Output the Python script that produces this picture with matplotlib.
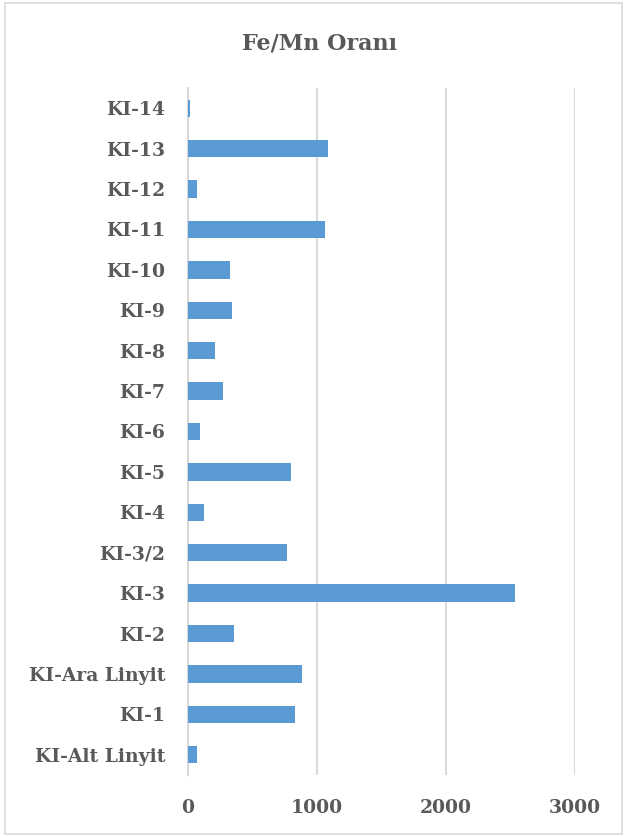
"""Fe/Mn ratio per sample — horizontal bar chart."""

import matplotlib.pyplot as plt
from matplotlib.patches import Rectangle

# Samples from bottom to top of the chart
samples = [
    "KI-Alt Linyit", "KI-1", "KI-Ara Linyit", "KI-2", "KI-3", "KI-3/2",
    "KI-4", "KI-5", "KI-6", "KI-7", "KI-8", "KI-9", "KI-10", "KI-11",
    "KI-12", "KI-13", "KI-14",
]
fe_mn = [
    72, 832, 886, 356, 2532, 770,
    126, 803, 98, 276, 214, 341, 328, 1067,
    75, 1085, 18,
]
x_ticks = [0, 1000, 2000, 3000]

TEXT = "#595959"
GRID = "#d9d9d9"
BAR = "#5b9bd5"
FONT = ["DejaVu Serif"]

W, H = 627, 836
fig = plt.figure(figsize=(W / 100, H / 100), dpi=100)

# chart outline
fig.patches.append(Rectangle((5 / W, 2 / H), 617 / W, 831 / H, transform=fig.transFigure,
                             fill=False, edgecolor=GRID, linewidth=1.2))

ax = fig.add_axes([187.7 / W, 61 / H, (575 - 187.7) / W, 687 / H])
ypos = range(len(samples))
ax.barh(ypos, fe_mn, height=0.43, color=BAR, zorder=3)

ax.set_xlim(0, 3000)
ax.set_ylim(-0.5, len(samples) - 0.5)
ax.set_xticks(x_ticks)
ax.set_xticklabels([str(t) for t in x_ticks], family=FONT, fontsize=13.5,
                   fontweight="bold", color=TEXT)
ax.set_yticks(list(ypos))
ax.set_yticklabels(samples, family=FONT, fontsize=13.5, fontweight="bold", color=TEXT)
ax.tick_params(axis="both", length=0)
ax.tick_params(axis="x", pad=17)
ax.tick_params(axis="y", pad=16)

ax.grid(axis="x", color=GRID, linewidth=1.5, zorder=0)
for side in ["top", "right", "bottom"]:
    ax.spines[side].set_visible(False)
ax.spines["left"].set_color(GRID)
ax.spines["left"].set_linewidth(1.5)

fig.text(320 / W, 1 - 44 / H, "Fe/Mn Oranı", ha="center", va="center",
         family=FONT, fontsize=16, fontweight="bold", color=TEXT)

fig.savefig("out.png", dpi=100)
